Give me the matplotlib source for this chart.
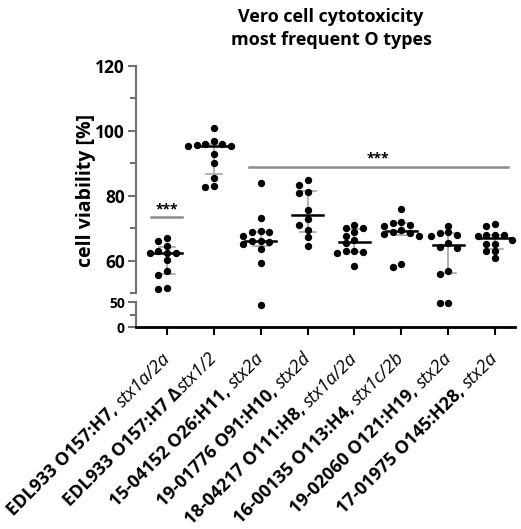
import numpy as np
import matplotlib.pyplot as plt
from matplotlib.transforms import ScaledTranslation

plt.rcParams['font.family'] = ['Open Sans', 'DejaVu Sans']

# strain names (bold part) and stx genotype (italic part)
strains = ['EDL933 O157:H7, ', 'EDL933 O157:H7 \u0394', '15-04152 O26:H11, ', '19-01776 O91:H10, ',
           '18-04217 O111:H8, ', '16-00135 O113:H4, ', '19-02060 O121:H19, ', '17-01975 O145:H28, ']
stx = ['stx1a/2a', 'stx1/2', 'stx2a', 'stx2d', 'stx1a/2a', 'stx1c/2b', 'stx2a', 'stx2a']

# cell viability [%] per strain
edl933 = [66.0, 67.0, 64.4, 62.4, 62.4, 62.4, 63.1, 60.3, 56.7, 55.5, 51.1, 51.6]
edl933_dstx = [100.8, 97.0, 95.9, 95.4, 95.7, 95.4, 95.9, 92.9, 90.2, 85.4, 82.6, 83.1]
o26 = [83.9, 73.1, 68.7, 69.2, 68.7, 67.5, 66.0, 65.8, 66.0, 65.1, 63.7, 59.2, 45.0]
o91 = [84.7, 83.4, 80.8, 81.0, 75.5, 72.8, 71.1, 69.3, 67.2, 64.6]
o111 = [69.9, 70.9, 69.9, 68.8, 67.5, 66.2, 65.4, 62.9, 62.6, 62.9, 62.4, 58.2]
o113 = [75.9, 70.8, 71.1, 71.6, 71.9, 68.2, 68.7, 69.5, 67.7, 68.5, 58.0, 58.8]
o121 = [70.6, 68.7, 67.5, 68.0, 68.5, 65.4, 63.9, 64.2, 56.0, 56.7, 49.0, 49.0]
o145 = [70.6, 71.3, 67.8, 67.8, 67.7, 68.0, 66.2, 65.1, 65.1, 62.9, 62.9, 60.8]
groups = [edl933, edl933_dstx, o26, o91, o111, o113, o121, o145]

BREAK = 50

fig = plt.figure(figsize=(5.21, 5.29), dpi=100)
ax = fig.add_axes([0.261, 0.4461, 0.727, 0.4291])
axl = fig.add_axes([0.261, 0.3813, 0.727, 0.0472])

for a in (ax, axl):
	a.set_xlim(0.34, 8.42)
	a.spines['top'].set_visible(False)
	a.spines['right'].set_visible(False)
	a.spines['left'].set_color('#707070')
	a.spines['left'].set_linewidth(1.5)
	a.tick_params(axis='y', colors='#707070', labelcolor='black', width=1.5)
ax.set_ylim(BREAK, 120)
axl.set_ylim(0, BREAK)
ax.spines['bottom'].set_visible(False)
ax.set_xticks([])
ax.set_yticks([60, 80, 100, 120])
ax.set_yticks([50, 70, 90, 110], minor=True)
ax.tick_params(axis='y', which='major', length=6, labelsize=12.5, pad=2)
ax.tick_params(axis='y', which='minor', length=4, colors='#707070', width=1.5)
for lab in ax.get_yticklabels():
	lab.set_fontweight('bold')
axl.set_yticks([0, 50])
axl.set_yticks([25], minor=True)
axl.tick_params(axis='y', which='major', length=6, labelsize=10, pad=2)
axl.tick_params(axis='y', which='minor', length=4, colors='#707070', width=1.5)
for lab in axl.get_yticklabels():
	lab.set_fontweight('bold')
axl.spines['bottom'].set_color('black')
axl.spines['bottom'].set_linewidth(2)
axl.set_xticks(np.arange(1, 9))
axl.set_xticklabels([])
axl.tick_params(axis='x', length=6, width=1.5, color='black')


def swarm(a, x0, vals, dx, dy):
	# greedy beeswarm in pixel space: columns dx apart, points closer than dy share no column
	ys = a.transData.transform(np.column_stack([np.full(len(vals), x0), vals]))[:, 1]
	order = np.argsort(-ys)
	placed = []
	offs = np.zeros(len(vals))
	cands = sorted([k * dx / 2 for k in range(-8, 9)], key=lambda c: (abs(c), c))
	for i in order:
		for c in cands:
			if all(abs(c - xj) >= dx - 1e-6 or abs(ys[i] - yj) >= dy for (xj, yj) in placed):
				offs[i] = c
				placed.append((c, ys[i]))
				break
	ppu = a.transData.transform([[1, 0]])[0, 0] - a.transData.transform([[0, 0]])[0, 0]
	return x0 + offs / ppu


for i, vals in enumerate(groups):
	x0 = i + 1
	vals = np.array(vals)
	up = vals[vals >= BREAK]
	lo = vals[vals < BREAK]
	ax.plot(swarm(ax, x0, up, 8.6, 6.0), up, 'o', color='black', ms=5.3, mew=0, clip_on=False, zorder=3)
	if len(lo):
		axl.plot(swarm(axl, x0, lo, 8.6, 6.0), lo, 'o', color='black', ms=5.3, mew=0, clip_on=False, zorder=3)
	q1, med, q3 = np.percentile(vals, [25, 50, 75], method='weibull')
	ax.plot([x0, x0], [q1, q3], color='#a6a6a6', lw=1.2, zorder=2)
	ax.plot([x0 - 0.17, x0 + 0.17], [q1, q1], color='#a6a6a6', lw=1.2, zorder=2)
	ax.plot([x0 - 0.17, x0 + 0.17], [q3, q3], color='#a6a6a6', lw=1.2, zorder=2)
	ax.plot([x0 - 0.33, x0 + 0.33], [med, med], color='black', lw=1.8, zorder=4)

# significance
ax.plot([0.67, 1.33], [73.3, 73.3], color='#8c8c8c', lw=1.8)
ax.text(1, 74.6, '***', ha='center', va='baseline', fontsize=10, fontweight='bold')
ax.plot([2.75, 8.28], [88.8, 88.8], color='#8c8c8c', lw=1.8)
ax.text(5.5, 90.1, '***', ha='center', va='baseline', fontsize=10, fontweight='bold')

# axis label and title
fig.text(86 / 521, 1 - 190 / 529, 'cell viability [%]', rotation=90, ha='center', va='center',
         fontsize=14, fontweight='bold')
fig.text(331 / 521, 1 - 17 / 529, 'Vero cell cytotoxicity', ha='center', va='center',
         fontsize=13, fontweight='bold')
fig.text(331 / 521, 1 - 40 / 529, 'most frequent O types', ha='center', va='center',
         fontsize=13, fontweight='bold')

# x tick labels: bold strain + italic stx, rotated 45 deg
renderer = fig.canvas.get_renderer()
fs = 13
cs = np.cos(np.radians(45))
base = axl.get_xaxis_transform()
oy = -23
for i in range(8):
	x0 = i + 1
	t0 = base + ScaledTranslation(3 / 72, oy / 72, fig.dpi_scale_trans)
	axl.text(x0, 0, stx[i], transform=t0, rotation=45, rotation_mode='anchor',
	         ha='right', va='baseline', fontsize=fs, style='italic', color='black')
	# width of the italic part along the baseline
	tmp = fig.text(0, 0, stx[i], fontsize=fs, style='italic')
	w = tmp.get_window_extent(renderer).width
	tmp.remove()
	gap = 5 if strains[i].endswith(' ') else 0.5
	d = (w + gap) * 72 / fig.dpi
	t1 = base + ScaledTranslation((3 - d * cs) / 72, (oy - d * cs) / 72, fig.dpi_scale_trans)
	axl.text(x0, 0, strains[i].rstrip(), transform=t1, rotation=45, rotation_mode='anchor',
	         ha='right', va='baseline', fontsize=fs, fontweight='bold')

fig.savefig('out.png', dpi=100)
